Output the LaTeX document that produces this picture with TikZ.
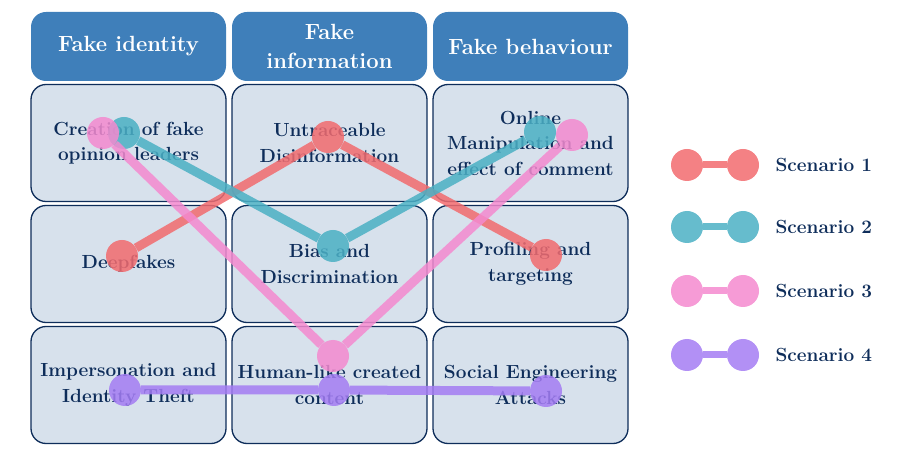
\documentclass[tikz,border=0pt]{standalone}
\usetikzlibrary{positioning}
\definecolor{headblue}{HTML}{3F7FBA}
\definecolor{cellfill}{HTML}{D7E1EC}
\definecolor{navy}{HTML}{0E2D5A}
\definecolor{scred}{HTML}{F26B6E}
\definecolor{scteal}{HTML}{4BB0C4}
\definecolor{scpink}{HTML}{F48ACF}
\definecolor{scpurple}{HTML}{A47CF3}
\begin{document}
\begin{tikzpicture}[
    x=1pt, y=-1pt,
    head/.style={rounded corners=15pt, fill=headblue, minimum width=195pt, minimum height=69pt, text=white, align=center, font=\fontsize{22}{29}\selectfont\bfseries},
    cell/.style={rounded corners=15pt, fill=cellfill, draw=navy, line width=1.3pt, minimum width=195pt, minimum height=117pt, text=navy, align=center, font=\fontsize{19}{25.5}\selectfont\bfseries},
    dot/.style={circle, minimum size=32pt, inner sep=0pt, fill=#1, opacity=0.85},
    link/.style={line width=9pt, draw=#1, opacity=0.85},
    legtext/.style={right, text=navy, font=\fontsize{19}{22}\selectfont\bfseries}
]
    \useasboundingbox (0,0) rectangle (906,454);

    % headers
    \node[head] at (128.5,46.5) (h1) {Fake identity};
    \node[head] at (329.5,46.5) (h2) {Fake\\information};
    \node[head] at (530.5,46.5) (h3) {Fake behaviour};

    % cells
    \node[cell] at (128.5,143) (c11) {Creation of fake\\opinion leaders};
    \node[cell] at (329.5,143) (c12) {Untraceable\\Disinformation};
    \node[cell] at (530.5,143) (c13) {Online\\Manipulation and\\effect of comment};
    \node[cell] at (128.5,264) (c21) {Deepfakes};
    \node[cell] at (329.5,264) (c22) {Bias and\\Discrimination};
    \node[cell] at (530.5,264) (c23) {Profiling and\\targeting};
    \node[cell] at (128.5,385) (c31) {Impersonation and\\Identity Theft};
    \node[cell] at (329.5,385) (c32) {Human-like created\\content};
    \node[cell] at (530.5,385) (c33) {Social Engineering\\Attacks};

    % scenario 1
    \node[dot=scred] at (122,256) (r1) {};
    \node[dot=scred] at (328,137) (r2) {};
    \node[dot=scred] at (546,255) (r3) {};
    \draw[link=scred] (r1) -- (r2) -- (r3);

    % scenario 2
    \node[dot=scteal] at (124,133) (t1) {};
    \node[dot=scteal] at (333,246) (t2) {};
    \node[dot=scteal] at (540,132) (t3) {};
    \draw[link=scteal] (t1) -- (t2) -- (t3);

    % scenario 3
    \node[dot=scpink] at (103,133) (p1) {};
    \node[dot=scpink] at (333,356) (p2) {};
    \node[dot=scpink] at (572,135) (p3) {};
    \draw[link=scpink] (p1) -- (p2) -- (p3);

    % scenario 4
    \node[dot=scpurple] at (125,390) (v1) {};
    \node[dot=scpurple] at (334,390) (v2) {};
    \node[dot=scpurple] at (546,391) (v3) {};
    \draw[link=scpurple] (v1) -- (v2) -- (v3);

    % legend
    \node[dot=scred] at (687,165) (l1a) {};
    \node[dot=scred] at (743,165) (l1b) {};
    \draw[link=scred, line width=7pt] (l1a) -- (l1b);
    \node[legtext] at (772,165) (s1) {Scenario 1};

    \node[dot=scteal] at (687,227) (l2a) {};
    \node[dot=scteal] at (743,227) (l2b) {};
    \draw[link=scteal, line width=7pt] (l2a) -- (l2b);
    \node[legtext] at (772,227) (s2) {Scenario 2};

    \node[dot=scpink] at (687,291) (l3a) {};
    \node[dot=scpink] at (743,291) (l3b) {};
    \draw[link=scpink, line width=7pt] (l3a) -- (l3b);
    \node[legtext] at (772,291) (s3) {Scenario 3};

    \node[dot=scpurple] at (687,355) (l4a) {};
    \node[dot=scpurple] at (743,355) (l4b) {};
    \draw[link=scpurple, line width=7pt] (l4a) -- (l4b);
    \node[legtext] at (772,355) (s4) {Scenario 4};
\end{tikzpicture}
\end{document}
